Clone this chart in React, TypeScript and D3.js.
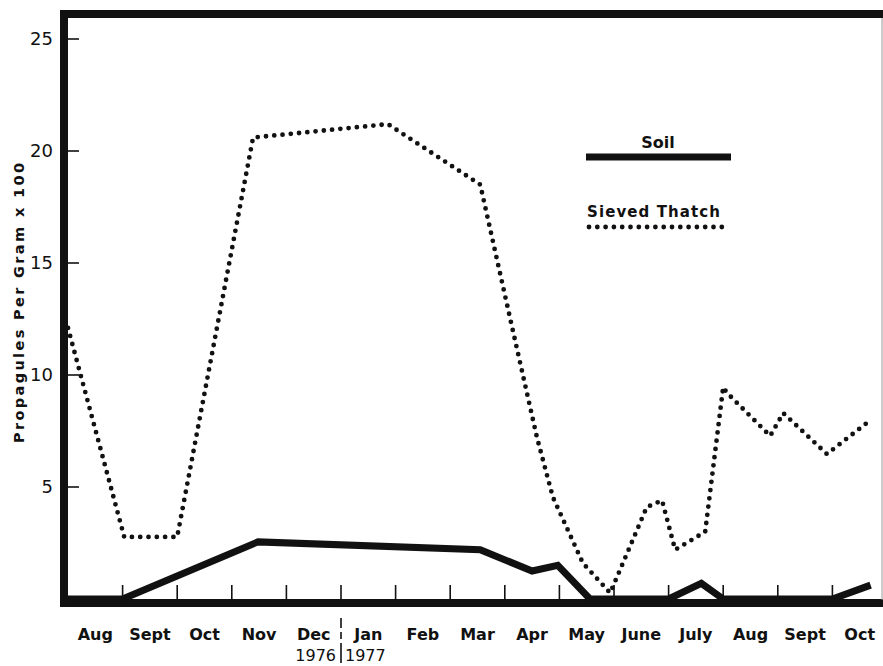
import React from "react";
import * as d3 from "d3";

// Month labels along the bottom (each label sits in the middle of its month)
const months = ["Aug", "Sept", "Oct", "Nov", "Dec", "Jan", "Feb", "Mar", "Apr", "May", "June", "July", "Aug", "Sept", "Oct"];
const yTicks = [5, 10, 15, 20, 25];

// Sieved thatch: time in months since 1 Aug 1976, propagules per gram x 100
const thatchTime = [0, 1.03, 2.0, 3.39, 5.86, 7.55, 8.1, 8.59, 8.88, 9.43, 9.93, 10.6, 10.88, 11.12, 11.67, 12.0, 12.07, 12.86, 13.1, 13.9, 14.63];
const thatchValue = [12.1, 2.77, 2.77, 20.6, 21.2, 18.5, 12.5, 7.2, 4.55, 1.6, 0.27, 4.1, 4.4, 2.2, 3.0, 9.46, 9.2, 7.28, 8.3, 6.47, 7.86];

// Soil
const soilTime = [0, 1.0, 3.48, 7.55, 8.5, 8.97, 9.56, 11.0, 11.6, 12.0, 14.0, 14.7];
const soilValue = [0, 0, 2.55, 2.2, 1.25, 1.5, 0, 0, 0.7, 0, 0, 0.62];

const W = 883;
const H = 666;
const font = "'DejaVu Sans', sans-serif";

const App: React.FC = () => {
  const x = d3.scaleLinear().domain([0, 15]).range([68, 887]);
  const y = d3.scaleLinear().domain([0, 25]).range([599, 39]);

  const line = d3
    .line<[number, number]>()
    .x((d) => x(d[0]))
    .y((d) => y(d[1]));

  const thatch = thatchTime.map((t, i) => [t, thatchValue[i]] as [number, number]);
  const soil = soilTime.map((t, i) => [t, soilValue[i]] as [number, number]);
  const divider = x(5);

  return (
    <div style={{ position: "absolute", left: 0, top: 0 }}>
      <svg width={W} height={H} style={{ display: "block", background: "#fff" }}>
        {/* frame */}
        <line x1={60} x2={W} y1={14} y2={14} stroke="#111" strokeWidth={8} />
        <line x1={64} x2={64} y1={10} y2={607} stroke="#111" strokeWidth={8} />
        <line x1={60} x2={W} y1={603} y2={603} stroke="#111" strokeWidth={8} />
        <line x1={882} x2={882} y1={18} y2={600} stroke="#999" strokeWidth={1} />

        {/* y ticks */}
        {yTicks.map((t) => (
          <g key={t}>
            <line x1={68} x2={79} y1={y(t)} y2={y(t)} stroke="#111" strokeWidth={1.6} />
            <text x={53} y={y(t) + 6} textAnchor="end" fontFamily={font} fontSize={18} fill="#111">
              {t}
            </text>
          </g>
        ))}
        <text
          transform={`translate(24,303) rotate(-90)`}
          textAnchor="middle"
          fontFamily={font}
          fontWeight="bold"
          fontSize={14.5}
          fill="#111"
          textLength={280}
          lengthAdjust="spacing"
        >
          Propagules Per Gram x 100
        </text>

        {/* x ticks at month boundaries */}
        {d3.range(1, 15).map((i) => (
          <line key={i} x1={x(i)} x2={x(i)} y1={600} y2={585} stroke="#111" strokeWidth={1.6} />
        ))}
        {months.map((m, i) => (
          <text
            key={i}
            x={x(i + 0.5)}
            y={640}
            textAnchor="middle"
            fontFamily={font}
            fontWeight="bold"
            fontSize={16}
            fill="#111"
          >
            {m}
          </text>
        ))}
        <line x1={divider} x2={divider} y1={618} y2={663} stroke="#111" strokeWidth={1.6} strokeDasharray="10 4 7 4 30" />
        <text x={divider - 5} y={661} textAnchor="end" fontFamily={font} fontSize={16} fill="#111">
          1976
        </text>
        <text x={divider + 4} y={661} textAnchor="start" fontFamily={font} fontSize={16} fill="#111">
          1977
        </text>

        {/* series */}
        <path d={line(soil) || ""} fill="none" stroke="#111" strokeWidth={7} strokeLinejoin="miter" />
        <path
          d={line(thatch) || ""}
          fill="none"
          stroke="#111"
          strokeWidth={4.8}
          strokeDasharray="0 8.3"
          strokeLinecap="round"
        />

        {/* legend */}
        <text x={658} y={148} textAnchor="middle" fontFamily={font} fontWeight="bold" fontSize={16} fill="#111">
          Soil
        </text>
        <line x1={586} x2={731} y1={157} y2={157} stroke="#111" strokeWidth={7} />
        <text x={587} y={217} fontFamily={font} fontWeight="bold" fontSize={15} fill="#111" textLength={133} lengthAdjust="spacing">
          Sieved  Thatch
        </text>
        <line
          x1={589}
          x2={726}
          y1={227}
          y2={227}
          stroke="#111"
          strokeWidth={4.8}
          strokeDasharray="0 8.3"
          strokeLinecap="round"
        />
      </svg>
    </div>
  );
};

export default App;
